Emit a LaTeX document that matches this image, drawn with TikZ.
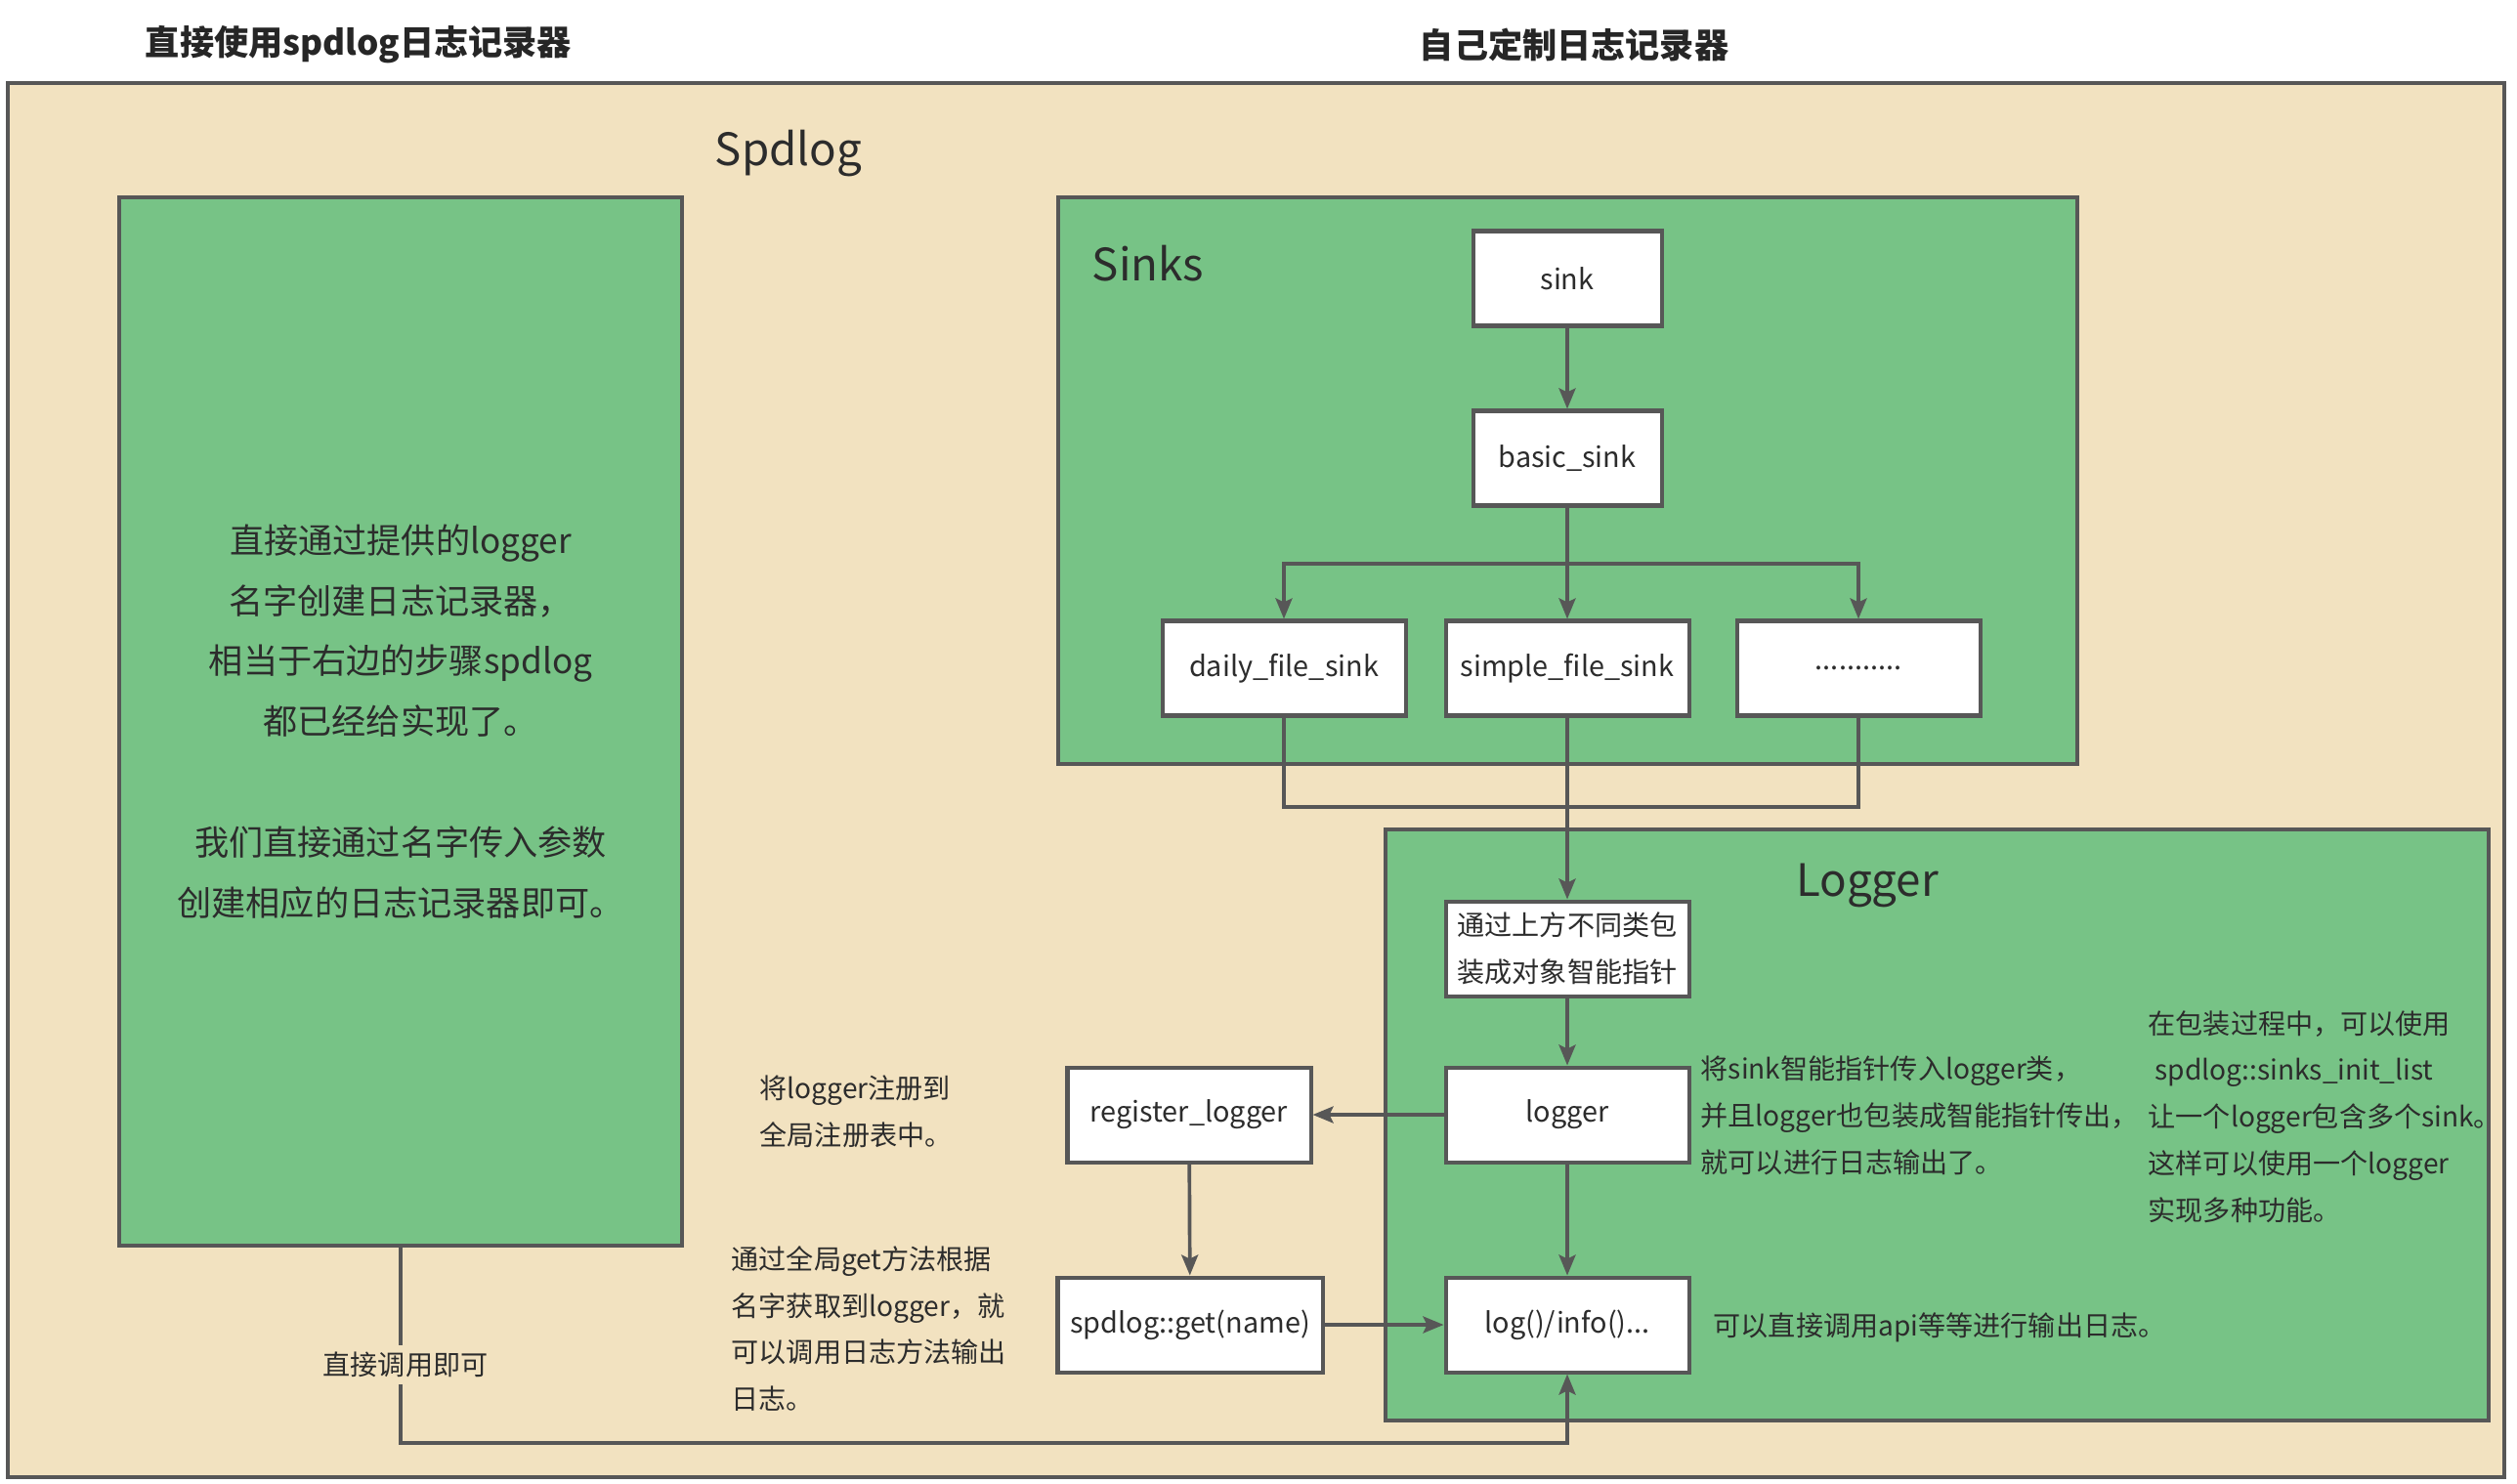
\documentclass[tikz,border=0pt]{standalone}
\usepackage{fontspec}
\setmainfont{Noto Sans CJK SC}
\usetikzlibrary{arrows.meta,positioning,calc}
\definecolor{spbg}{HTML}{F2E2C0}
\definecolor{spgreen}{HTML}{77C386}
\definecolor{spline}{HTML}{575757}
\definecolor{sptext}{HTML}{2C2C2C}

\begin{document}
\begin{tikzpicture}[
    font=\fontsize{8}{13.6}\selectfont, text=sptext,
    box/.style={draw=spline, line width=1.15pt, fill=white, align=center,
                minimum width=2.49cm, minimum height=0.97cm, inner sep=2pt,
                font=\fontsize{8.2}{13.6}\selectfont},
    grp/.style={draw=spline, line width=1.15pt, fill=spgreen, inner sep=0pt},
    arr/.style={-{Stealth[length=2.1mm,width=1.7mm,inset=0.4mm]}, line width=1.05pt, draw=spline},
    ln/.style={line width=1.05pt, draw=spline},
    note/.style={align=left, anchor=west, inner sep=0pt},
    big/.style={font=\fontsize{13}{16}\selectfont}
  ]
  \useasboundingbox (0,0) rectangle (25.76,-15.18);
  % titles
  \node[font=\fontsize{10}{12}\selectfont\bfseries, text=black!85] (t1) at (3.67,-0.46) {直接使用spdlog日志记录器};
  \node[font=\fontsize{10}{12}\selectfont\bfseries, text=black!85] (t2) at (16.11,-0.46) {自己定制日志记录器};
  \draw[draw=spline, line width=1.2pt, fill=spbg] (0.08,-0.85) rectangle (25.63,-15.12);
  \node[big] (spdlog) at (8.07,-1.57) {Spdlog};

  % left part
  \node[grp, minimum width=5.76cm, minimum height=10.73cm, align=center,
        font=\fontsize{10}{17.6}\selectfont] (direct) at (4.10,-7.385)
    {直接通过提供的logger\\名字创建日志记录器，\\相当于右边的步骤spdlog\\都已经给实现了。\\[17.6pt]
     我们直接通过名字传入参数\\创建相应的日志记录器即可。};

  % groups
  \node[grp, minimum width=10.43cm, minimum height=5.80cm] (sinks) at (16.045,-4.92) {};
  \node[big] (sinkslbl) at (11.75,-2.70) {Sinks};
  \node[grp, minimum width=11.29cm, minimum height=6.05cm] (loggergrp) at (19.825,-11.515) {};
  \node[big] (loggerlbl) at (19.11,-9.06) {Logger};

  % sinks
  \node[box, minimum width=1.93cm] (sink) at (16.04,-2.85) {sink};
  \node[box, minimum width=1.93cm] (basic) at (16.04,-4.69) {basic\_sink};
  \node[box] (daily) at (13.14,-6.84) {daily\_file\_sink};
  \node[box] (simple) at (16.04,-6.84) {simple\_file\_sink};
  \node[box] (dots) at (19.02,-6.84) {...........};
  \coordinate (split) at (16.04,-5.77);
  \coordinate (merge) at (16.04,-8.26);
  \draw[arr] (sink) -- (basic);
  \draw[arr] (basic) -- (simple);
  \draw[arr] (split) -| (daily);
  \draw[arr] (split) -| (dots);
  \draw[ln] (daily.south) |- (merge) -| (dots.south);

  % logger
  \node[box, font=\fontsize{8}{13.6}\selectfont] (wrap) at (16.04,-9.71) {通过上方不同类包\\装成对象智能指针};
  \node[box] (logger) at (16.04,-11.41) {logger};
  \node[box] (log) at (16.04,-13.56) {log()/info()...};
  \node[box] (register) at (12.17,-11.41) {register\_logger};
  \node[box, minimum width=2.71cm] (getnode) at (12.18,-13.56) {spdlog::get(name)};
  \draw[arr] (simple) -- (wrap);
  \draw[arr] (wrap) -- (logger);
  \draw[arr] (logger) -- (register);
  \draw[arr] (register) -- (getnode);
  \draw[arr] (getnode) -- (log);
  \draw[arr] (logger) -- (log);
  \coordinate (turn) at (4.10,-14.77);
  \draw[arr] (direct.south) -- node[fill=spbg, pos=0.6, inner sep=2pt, xshift=0.05cm] (calltxt) {直接调用即可} (turn) -| (log.south);

  % notes
  \node[note] (regnote) at (7.77,-11.38) {将logger注册到\\全局注册表中。};
  \node[note] (getnote) at (7.48,-13.60) {通过全局get方法根据\\名字获取到logger，就\\可以调用日志方法输出\\日志。};
  \node[note] (lognote) at (17.40,-11.42) {将sink智能指针传入logger类，\\并且logger也包装成智能指针传出，\\就可以进行日志输出了。};
  \node[note] (listnote) at (21.98,-11.43) {在包装过程中，可以使用\\\hspace{0.25em}spdlog::sinks\_init\_list\\让一个logger包含多个sink。\\这样可以使用一个logger\\实现多种功能。};
  \node[note] (apinote) at (17.53,-13.59) {可以直接调用api等等进行输出日志。};
\end{tikzpicture}
\end{document}
